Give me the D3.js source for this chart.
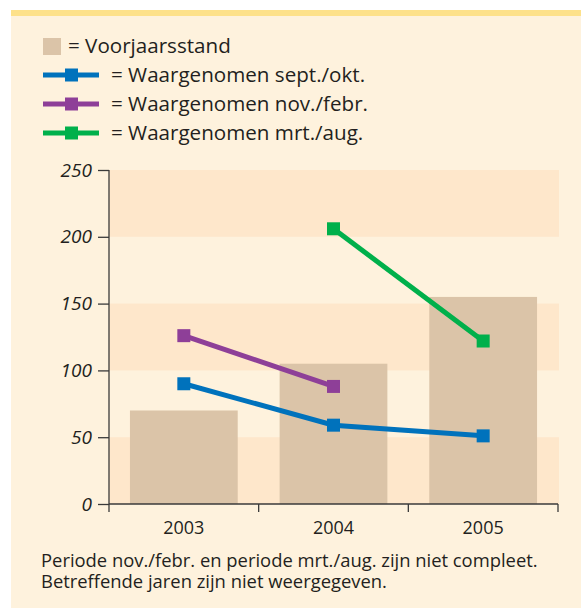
<!DOCTYPE html>
<html>
<head>
<meta charset="utf-8">
<script src="https://d3js.org/d3.v7.min.js"></script>
<style>
  body { margin: 0; background: #fff; }
  text { font-family: "Open Sans", sans-serif; fill: #231f20; }
</style>
</head>
<body>
<script>
// data
var years = ["2003", "2004", "2005"];
var voorjaar = [70, 105, 155];
var septOkt = [{year: "2003", v: 90}, {year: "2004", v: 59}, {year: "2005", v: 51}];
var novFebr = [{year: "2003", v: 126}, {year: "2004", v: 88}];
var mrtAug = [{year: "2004", v: 206}, {year: "2005", v: 122}];
var yTicks = [0, 50, 100, 150, 200, 250];

var series = [
  {name: "= Waargenomen sept./okt.", color: "#0072bc", data: septOkt},
  {name: "= Waargenomen nov./febr.", color: "#8e3f98", data: novFebr},
  {name: "= Waargenomen mrt./aug.", color: "#00b04b", data: mrtAug}
];

var width = 581, height = 608;
var panelColor = "#fef2dd", bandColor = "#fee7cb", barColor = "#dbc4a8";
var plotLeft = 109, plotRight = 558, plotTop = 170, plotBottom = 504;

var svg = d3.select("body").append("svg")
  .attr("width", width)
  .attr("height", height);

// panel + top stripe
svg.append("rect").attr("x", 11).attr("y", 10).attr("width", width - 11).attr("height", height - 10)
  .attr("fill", panelColor);
svg.append("rect").attr("x", 11).attr("y", 10).attr("width", width - 11).attr("height", 6)
  .attr("fill", "#fde18a");

var x = d3.scaleBand().domain(years).range([plotLeft, plotRight]).paddingInner(0.28).paddingOuter(0.14);
var y = d3.scaleLinear().domain([0, 250]).range([plotBottom, plotTop]);

// alternating bands
var bands = [[0, 50], [100, 150], [200, 250]];
svg.selectAll("rect.band")
  .data(bands)
  .enter().append("rect")
  .attr("class", "band")
  .attr("x", plotLeft)
  .attr("width", plotRight + 1 - plotLeft)
  .attr("y", function(d) { return y(d[1]); })
  .attr("height", function(d) { return y(d[0]) - y(d[1]); })
  .attr("fill", bandColor);

// bars
svg.selectAll("rect.bar")
  .data(voorjaar)
  .enter().append("rect")
  .attr("class", "bar")
  .attr("x", function(d, i) { return x(years[i]); })
  .attr("width", x.bandwidth())
  .attr("y", function(d) { return y(d); })
  .attr("height", function(d) { return y(0) - y(d); })
  .attr("fill", barColor);

// y axis
var yAxis = svg.append("g")
  .attr("transform", "translate(" + plotLeft + ",0)")
  .call(d3.axisLeft(y).tickValues(yTicks).tickSize(11).tickPadding(6));
yAxis.select(".domain").remove();
yAxis.selectAll("line").attr("stroke", "#3a3a3a").attr("stroke-width", 1.3);
yAxis.selectAll("text")
  .style("font-family", "'Open Sans', sans-serif")
  .style("font-style", "italic")
  .style("font-size", "19px")
  .attr("fill", "#231f20");
svg.append("line")
  .attr("x1", plotLeft).attr("x2", plotLeft)
  .attr("y1", plotTop).attr("y2", plotBottom + 8)
  .attr("stroke", "#3a3a3a").attr("stroke-width", 1.3);

// x axis
svg.append("line")
  .attr("x1", plotLeft).attr("x2", plotRight)
  .attr("y1", plotBottom).attr("y2", plotBottom)
  .attr("stroke", "#3a3a3a").attr("stroke-width", 1.3);
var step = x.step();
svg.selectAll("line.xtick")
  .data(years)
  .enter().append("line")
  .attr("class", "xtick")
  .attr("x1", function(d, i) { return plotLeft + step * (i + 1); })
  .attr("x2", function(d, i) { return plotLeft + step * (i + 1); })
  .attr("y1", plotBottom).attr("y2", plotBottom + 8)
  .attr("stroke", "#3a3a3a").attr("stroke-width", 1.3);
svg.selectAll("text.xlab")
  .data(years)
  .enter().append("text")
  .attr("class", "xlab")
  .attr("x", function(d) { return x(d) + x.bandwidth() / 2; })
  .attr("y", 534)
  .attr("text-anchor", "middle")
  .style("font-size", "18px")
  .text(function(d) { return d; });

// lines
var line = d3.line()
  .x(function(d) { return x(d.year) + x.bandwidth() / 2; })
  .y(function(d) { return y(d.v); });

series.forEach(function(s) {
  svg.append("path")
    .datum(s.data)
    .attr("d", line)
    .attr("fill", "none")
    .attr("stroke", s.color)
    .attr("stroke-width", 5);
  svg.selectAll(null)
    .data(s.data)
    .enter().append("rect")
    .attr("x", function(d) { return x(d.year) + x.bandwidth() / 2 - 6.5; })
    .attr("y", function(d) { return y(d.v) - 6.5; })
    .attr("width", 13).attr("height", 13)
    .attr("fill", s.color);
});

// legend
var leg = svg.append("g");
leg.append("rect").attr("x", 43).attr("y", 38).attr("width", 18).attr("height", 17).attr("fill", barColor);
leg.append("text").attr("x", 68).attr("y", 53).style("font-size", "20.6px").text("= Voorjaarsstand");
series.forEach(function(s, i) {
  var cy = 75 + i * 29;
  leg.append("line").attr("x1", 43).attr("x2", 99).attr("y1", cy).attr("y2", cy)
    .attr("stroke", s.color).attr("stroke-width", 5);
  leg.append("rect").attr("x", 65).attr("y", cy - 6.5).attr("width", 13).attr("height", 13)
    .attr("fill", s.color);
  leg.append("text").attr("x", 111).attr("y", cy + 7).style("font-size", "20.6px").text(s.name);
});

// footnote
var notes = ["Periode nov./febr. en periode mrt./aug. zijn niet compleet.",
             "Betreffende jaren zijn niet weergegeven."];
svg.selectAll("text.note")
  .data(notes)
  .enter().append("text")
  .attr("class", "note")
  .attr("x", 41)
  .attr("y", function(d, i) { return 567 + i * 20.5; })
  .style("font-size", "18.4px")
  .text(function(d) { return d; });
</script>
</body>
</html>
